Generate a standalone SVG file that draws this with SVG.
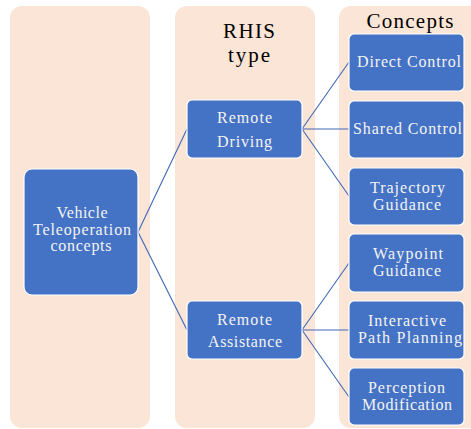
<svg xmlns="http://www.w3.org/2000/svg" width="471" height="429" viewBox="0 0 471 429">
<style>
.col{fill:#FBE5D6;}
.node{fill:#4472C4;stroke:#FFFFFF;stroke-width:1.2;}
.t{font-family:"Liberation Serif","Times New Roman",serif;font-size:16px;fill:#F4F4F4;text-anchor:middle;}
.h{font-family:"Liberation Serif","Times New Roman",serif;font-size:21px;fill:#000;text-anchor:middle;}
.c{stroke:#4068B8;stroke-width:1.1;fill:none;}
</style>
<rect width="471" height="429" fill="#FFFFFF"/>
<g id="columns">
<rect class="col" x="10" y="6" width="140" height="422" rx="12"/>
<rect class="col" x="175" y="6" width="140" height="422" rx="12"/>
<rect class="col" x="339" y="6" width="145" height="422" rx="12"/>
<text class="h" x="249" y="38" textLength="52">RHIS</text>
<text class="h" x="249" y="62" textLength="42">type</text>
<text class="h" x="410" y="28" textLength="87">Concepts</text>
</g>
<g id="connectors">
<path class="c" d="M138,232 L187,129 M138,232 L187,330"/>
<path class="c" d="M302,129 L349,62 M302,129 L349,129 M302,129 L349,196"/>
<path class="c" d="M302,330 L349,263 M302,330 L349,330 M302,330 L349,397"/>
</g>
<g id="vehicle">
<rect class="node" x="24" y="169" width="114" height="126" rx="8"/>
<text class="t" x="82" y="218" textLength="51">Vehicle</text>
<text class="t" x="82" y="235" textLength="98">Teleoperation</text>
<text class="t" x="81" y="251" textLength="61">concepts</text>
</g>
<g id="remote-driving">
<rect class="node" x="187" y="100" width="115" height="58" rx="5"/>
<text class="t" x="244.5" y="123" textLength="55">Remote</text>
<text class="t" x="244.5" y="147" textLength="55">Driving</text>
</g>
<g id="remote-assistance">
<rect class="node" x="187" y="301" width="115" height="58" rx="5"/>
<text class="t" x="244.5" y="325" textLength="55">Remote</text>
<text class="t" x="245" y="347" textLength="74">Assistance</text>
</g>
<g id="direct-control">
<rect class="node" x="349" y="34" width="115" height="57" rx="5"/>
<text class="t" x="409" y="67" textLength="104">Direct Control</text>
</g>
<g id="shared-control">
<rect class="node" x="349" y="101" width="115" height="57" rx="5"/>
<text class="t" x="407.5" y="134" textLength="109">Shared Control</text>
</g>
<g id="trajectory-guidance">
<rect class="node" x="349" y="168" width="115" height="57" rx="5"/>
<text class="t" x="407.5" y="193" textLength="75">Trajectory</text>
<text class="t" x="407" y="210" textLength="68">Guidance</text>
</g>
<g id="waypoint-guidance">
<rect class="node" x="349" y="234" width="115" height="58" rx="5"/>
<text class="t" x="408" y="259" textLength="70">Waypoint</text>
<text class="t" x="407" y="276" textLength="68">Guidance</text>
</g>
<g id="interactive-path-planning">
<rect class="node" x="349" y="301" width="115" height="58" rx="5"/>
<text class="t" x="407" y="326" textLength="78">Interactive</text>
<text class="t" x="410" y="343" textLength="104">Path Planning</text>
</g>
<g id="perception-modification">
<rect class="node" x="349" y="368" width="115" height="57" rx="5"/>
<text class="t" x="406.5" y="393" textLength="77">Perception</text>
<text class="t" x="407" y="410" textLength="90">Modification</text>
</g>
</svg>
